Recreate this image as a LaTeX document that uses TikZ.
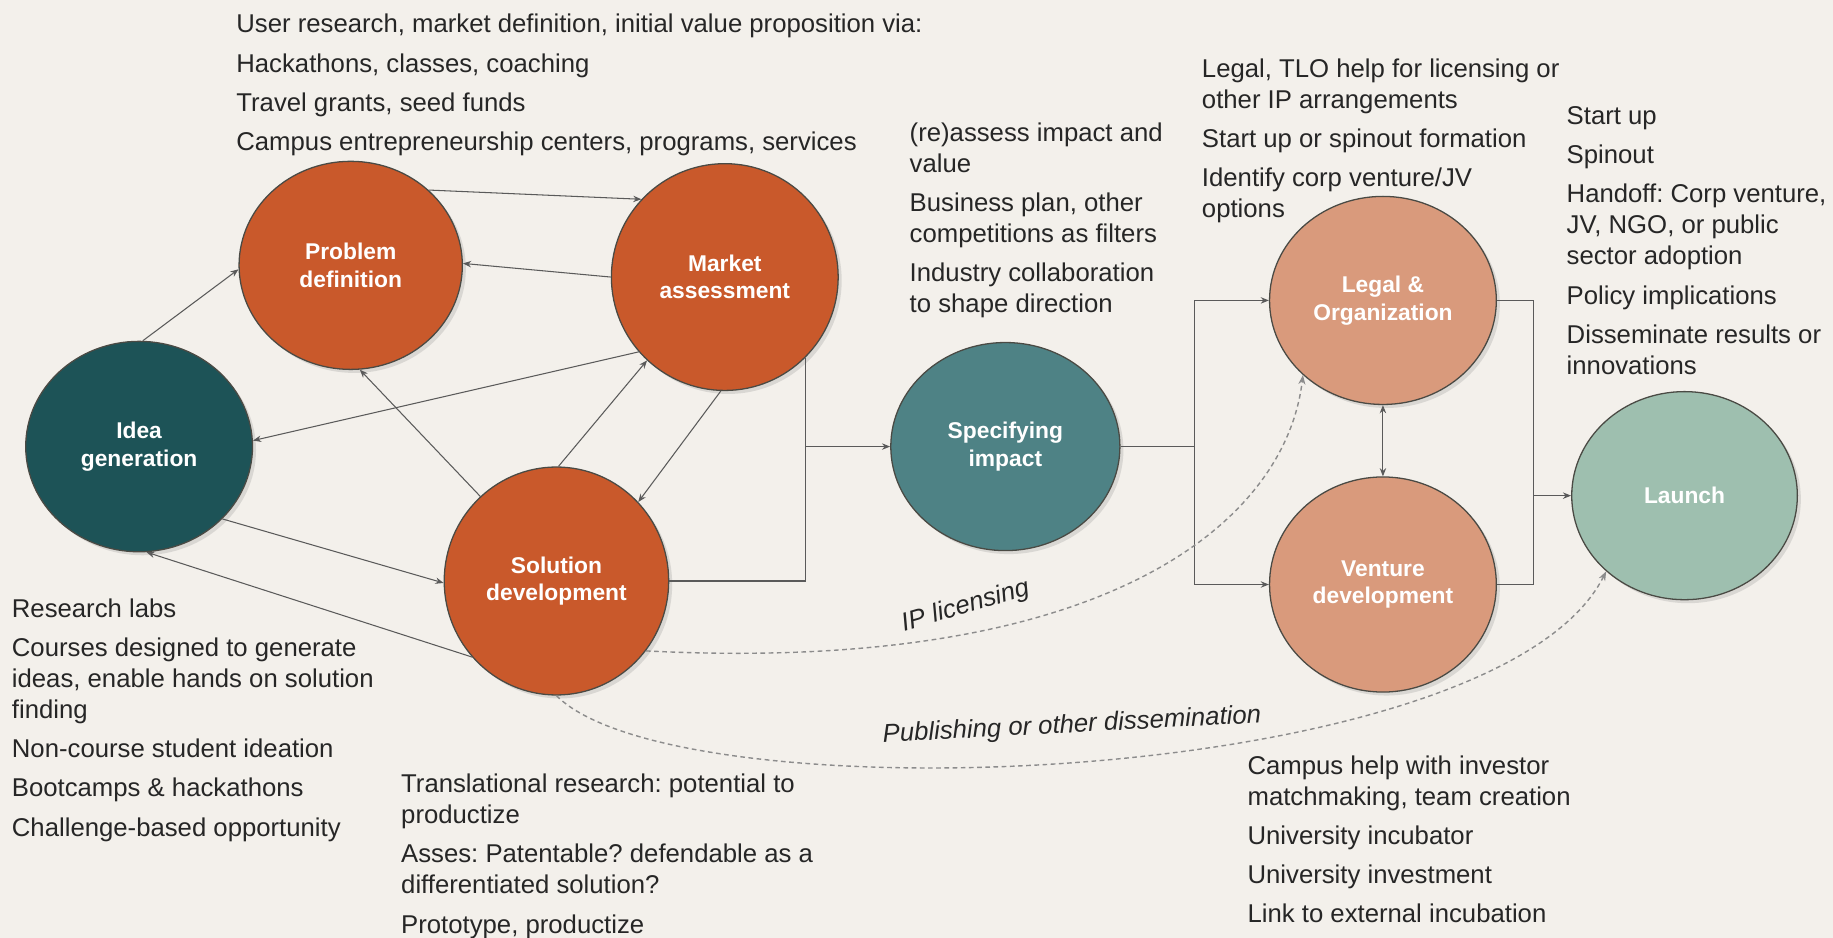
\documentclass[tikz,border=0pt]{standalone}
\usepackage{fontspec}
\setmainfont{Liberation Sans}
\usetikzlibrary{shapes.geometric,arrows.meta,shadows,calc}
\definecolor{bg}{HTML}{F3F0EB}
\definecolor{outl}{HTML}{4A4A44}
\definecolor{arrc}{HTML}{5A5A5A}
\definecolor{dshc}{HTML}{8C8C8C}
\definecolor{txtc}{HTML}{262626}
\definecolor{tealdark}{HTML}{1D5357}
\definecolor{orng}{HTML}{C9592B}
\definecolor{tealmid}{HTML}{4E8285}
\definecolor{salmon}{HTML}{D99A7C}
\definecolor{sage}{HTML}{9EBFAF}
\frenchspacing
\begin{document}
\begin{tikzpicture}[x=1pt,y=-1pt,
  blob/.style={ellipse, draw=outl, line width=1.1pt, inner sep=0pt, text=white,
    font=\fontsize{19.5}{23.5}\selectfont\bfseries, align=center,
    drop shadow={shadow xshift=3pt, shadow yshift=-3pt, opacity=0.22}},
  txt/.style={anchor=north west, inner sep=0pt, align=left, text=txtc,
    font=\fontsize{22}{26.5}\selectfont},
  ln/.style={draw=arrc, line width=0.9pt},
  arr/.style={ln, -{Stealth[length=7pt,width=5.5pt]}},
  darr/.style={ln, {Stealth[length=7pt,width=5.5pt]}-{Stealth[length=7pt,width=5.5pt]}},
  dsh/.style={draw=dshc, line width=1.2pt, dash pattern=on 4pt off 3pt, -{Stealth[length=8pt,width=6pt]}},
  lbl/.style={inner sep=0pt, text=txtc, font=\fontsize{22}{26}\selectfont\itshape}
]
\fill[bg] (0,0) rectangle (1568,802);
\useasboundingbox (0,0) rectangle (1568,802);

% circles
\node[blob, fill=tealdark, minimum width=194pt, minimum height=180pt] (idea) at (119,382) {Idea\\generation};
\node[blob, fill=orng, minimum width=191pt, minimum height=178pt] (prob) at (300,227) {Problem\\definition};
\node[blob, fill=orng, minimum width=194pt, minimum height=194pt] (mkt) at (620,237) {Market\\assessment};
\node[blob, fill=orng, minimum width=192pt, minimum height=195pt] (sol) at (476,497) {Solution\\development};
\node[blob, fill=tealmid, minimum width=196pt, minimum height=178pt] (spec) at (860,382) {Specifying\\impact};
\node[blob, fill=salmon, minimum width=194pt, minimum height=178pt] (legal) at (1183,257) {Legal \&\\Organization};
\node[blob, fill=salmon, minimum width=194pt, minimum height=184pt] (vent) at (1183,500) {Venture\\development};
\node[blob, fill=sage, minimum width=193pt, minimum height=178pt] (launch) at (1441,424) {Launch};

% left cluster arrows
\draw[arr] (idea.88) -- (prob.182);
\draw[arr] (prob.44) -- (mkt.137);
\draw[arr] (mkt.180) -- (prob.1);
\draw[arr] (mkt.221) -- (idea.3);
\draw[arr] (sol.89) -- (mkt.227);
\draw[arr] (mkt.268) -- (sol.44);
\draw[arr] (sol.132) -- (prob.275);
\draw[arr] (idea.-41) -- (sol.181);
\draw[arr] (sol.222) -- (idea.-86);

% elbow to specifying
\coordinate (j1) at ($(mkt.-45 |- spec.west)$);
\draw[ln] (mkt.-45) -- (j1);
\draw[ln] (sol.east) -| (j1);
\draw[arr] (j1) -- (spec.west);

% elbow to legal / venture
\coordinate (j2) at ($(spec.east)+(63,0)$);
\draw[ln] (spec.east) -- (j2);
\draw[arr] (j2) |- (legal.west);
\draw[arr] (j2) |- (vent.west);
\draw[darr] (legal.south) -- (vent.north);

% elbow to launch
\coordinate (j3) at ($(launch.west)+(-32,0)$);
\draw[ln] (legal.east) -| (j3);
\draw[ln] (vent.east) -| (j3);
\draw[arr] (j3) -- (launch.west);

% dashed curves
\draw[dsh] (sol.-38) .. controls (950,577) and (1100,445) .. (legal.223);
\draw[dsh] (sol.south) .. controls (580,700) and (1280,675) .. (launch.224);
\node[lbl, rotate=16] (iplab) at (826,519) {IP licensing};
\node[lbl, rotate=3] (publab) at (917,621) {Publishing or other dissemination};

% text blocks
\node[txt] (t1) at (202,12) {User research, market definition, initial value proposition via:\\[7pt]Hackathons, classes, coaching\\[7pt]Travel grants, seed funds\\[7pt]Campus entrepreneurship centers, programs, services};
\node[txt] (t2) at (778,105) {(re)assess impact and\\value\\[7pt]Business plan, other\\competitions as filters\\[7pt]Industry collaboration\\to shape direction};
\node[txt] (t3) at (1028,50) {Legal, TLO help for licensing or\\other IP arrangements\\[7pt]Start up or spinout formation\\[7pt]Identify corp venture/JV\\options};
\node[txt] (t4) at (1340,91) {Start up\\[7pt]Spinout\\[7pt]Handoff: Corp venture,\\JV, NGO, or public\\sector adoption\\[7pt]Policy implications\\[7pt]Disseminate results or\\innovations};
\node[txt] (t5) at (10,512) {Research labs\\[7pt]Courses designed to generate\\ideas, enable hands on solution\\finding\\[7pt]Non-course student ideation\\[7pt]Bootcamps \& hackathons\\[7pt]Challenge-based opportunity};
\node[txt] (t6) at (343,662) {Translational research: potential to\\productize\\[7pt]Asses: Patentable? defendable as a\\differentiated solution?\\[7pt]Prototype, productize};
\node[txt] (t7) at (1067,646) {Campus help with investor\\matchmaking, team creation\\[7pt]University incubator\\[7pt]University investment\\[7pt]Link to external incubation};
\end{tikzpicture}
\end{document}
